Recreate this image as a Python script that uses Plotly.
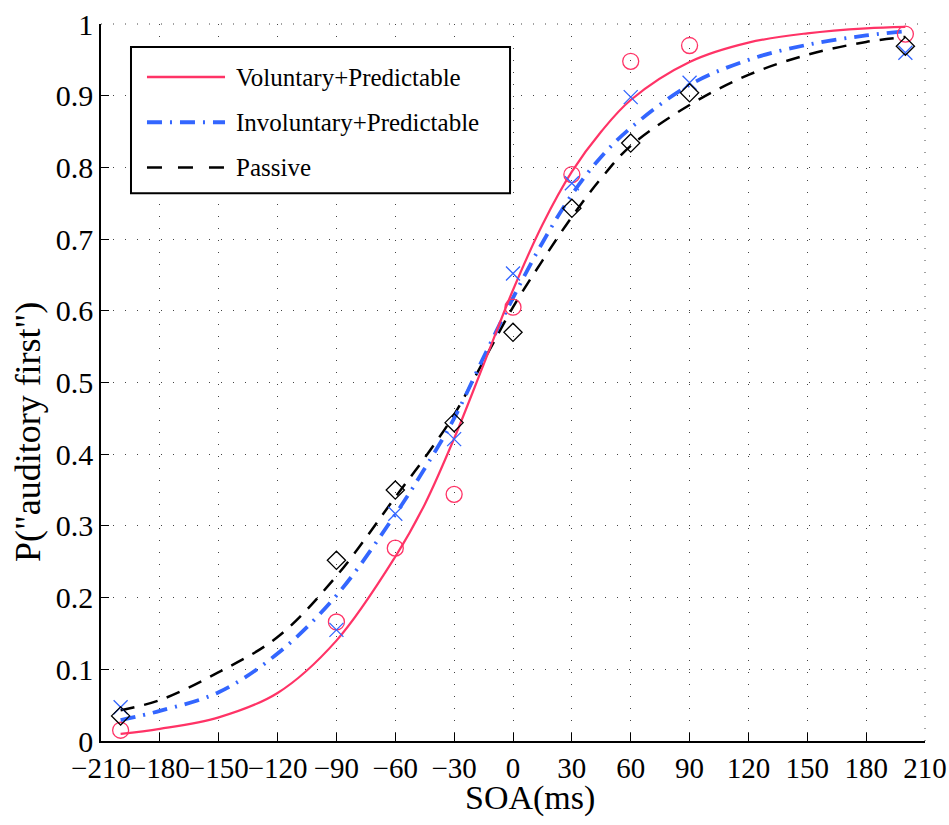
import plotly.graph_objects as go

# ---------------- data ----------------
soa = [-200, -90, -60, -30, 0, 30, 60, 90, 200]
vol_obs = [0.015, 0.166, 0.269, 0.344, 0.605, 0.790, 0.948, 0.970, 0.986]
invol_obs = [0.047, 0.155, 0.317, 0.421, 0.652, 0.778, 0.898, 0.918, 0.960]
passive_obs = [0.035, 0.252, 0.350, 0.444, 0.570, 0.743, 0.834, 0.904, 0.969]

curve_x = [-200, -180, -150, -120, -90, -60, -45, -30, -15, 0, 15, 30, 45, 60, 90, 120, 150, 180, 200]
vol_fit = [0.010, 0.017, 0.033, 0.067, 0.140, 0.257, 0.330, 0.422, 0.525, 0.629, 0.720, 0.794,
           0.850, 0.894, 0.947, 0.974, 0.987, 0.994, 0.996]
invol_fit = [0.029, 0.042, 0.068, 0.122, 0.203, 0.316, 0.380, 0.450, 0.535, 0.618, 0.695, 0.762,
             0.815, 0.855, 0.915, 0.950, 0.971, 0.984, 0.990]
passive_fit = [0.043, 0.057, 0.096, 0.145, 0.230, 0.340, 0.395, 0.455, 0.530, 0.605, 0.670, 0.731,
               0.785, 0.830, 0.887, 0.929, 0.957, 0.975, 0.982]

x_ticks = list(range(-210, 211, 30))
y_ticks = [0, 0.1, 0.2, 0.3, 0.4, 0.5, 0.6, 0.7, 0.8, 0.9, 1]
y_ticklabels = ["0", "0.1", "0.2", "0.3", "0.4", "0.5", "0.6", "0.7", "0.8", "0.9", "1"]

series_names = ["Voluntary+Predictable", "Involuntary+Predictable", "Passive"]

# ---------------- style ----------------
RED = "#FF3366"
BLUE = "#3366FF"
BLACK = "#000000"
GRID = "#444444"
FONT = "Liberation Serif"

fig = go.Figure()

# fitted curves
fig.add_trace(go.Scatter(x=curve_x, y=passive_fit, mode="lines", line_shape="spline",
                         line=dict(color=BLACK, width=2.5, dash="14px,10px"), showlegend=False))
fig.add_trace(go.Scatter(x=curve_x, y=invol_fit, mode="lines", line_shape="spline",
                         line=dict(color=BLUE, width=3.8, dash="15px,8px,2px,8px"), showlegend=False))
fig.add_trace(go.Scatter(x=curve_x, y=vol_fit, mode="lines", line_shape="spline",
                         line=dict(color=RED, width=2.2), showlegend=False))

# observed points
fig.add_trace(go.Scatter(x=soa, y=vol_obs, mode="markers",
                         marker=dict(symbol="circle-open", size=16, color=RED, line=dict(width=1.3, color=RED)),
                         showlegend=False))
fig.add_trace(go.Scatter(x=soa, y=invol_obs, mode="markers",
                         marker=dict(symbol="x-thin-open", size=14, color=BLUE, line=dict(width=1.3, color=BLUE)),
                         showlegend=False))
fig.add_trace(go.Scatter(x=soa, y=passive_obs, mode="markers",
                         marker=dict(symbol="diamond-open", size=14, color=BLACK, line=dict(width=1.3, color=BLACK)),
                         showlegend=False))

# dotted grid lines on the top and right plot edges (plotly clips the ones at the range ends)
shapes = [
    dict(type="line", xref="paper", yref="paper", x0=0, x1=1, y0=1, y1=1,
         line=dict(color=GRID, width=1, dash="1px,11px"), layer="below"),
    dict(type="line", xref="paper", yref="paper", x0=1, x1=1, y0=0, y1=1,
         line=dict(color=GRID, width=1, dash="1px,11px"), layer="below"),
]

# ---------------- custom legend ----------------
shapes.append(dict(type="rect", xref="paper", yref="paper", x0=0.0364, x1=0.4964, y0=0.764, y1=0.968,
                   line=dict(color=BLACK, width=2), fillcolor="white", layer="above"))
rows = [0.926, 0.863, 0.800]
styles = [dict(color=RED, width=2.5), dict(color=BLUE, width=3.8, dash="15px,8px,2px,8px"),
          dict(color=BLACK, width=2.5, dash="15px,16px")]
annotations = []
for name, yy, st in zip(series_names, rows, styles):
    shapes.append(dict(type="line", xref="paper", yref="paper", x0=0.0558, x1=0.1505, y0=yy, y1=yy,
                       line=st, layer="above"))
    annotations.append(dict(text=name, xref="paper", yref="paper", x=0.1614, y=yy, xanchor="left",
                            yanchor="middle", showarrow=False, font=dict(family=FONT, size=25, color=BLACK)))

# axis titles as annotations
annotations.append(dict(text="SOA(ms)", xref="paper", yref="paper", x=0.5206, y=-0.080,
                        xanchor="center", yanchor="middle", showarrow=False,
                        font=dict(family=FONT, size=34, color=BLACK)))
annotations.append(dict(text='P("auditory first")', xref="paper", yref="paper", x=-0.0885, y=0.431,
                        xanchor="center", yanchor="middle", textangle=-90, showarrow=False,
                        font=dict(family=FONT, size=36, color=BLACK)))

fig.update_layout(
    width=949, height=825,
    margin=dict(l=101, r=24, t=24, b=84, autoexpand=False),
    paper_bgcolor="white", plot_bgcolor="white",
    font=dict(family=FONT, size=29, color=BLACK),
    shapes=shapes, annotations=annotations,
    showlegend=False,
)
fig.update_xaxes(range=[-210, 210], tickvals=x_ticks, tickangle=0, automargin=False,
                 ticklabeloverflow="allow",
                 showgrid=True, gridcolor=GRID, gridwidth=1, griddash="1px,11px",
                 zeroline=False, showline=True, linecolor=BLACK, linewidth=1.5,
                 ticks="inside", ticklen=8, tickwidth=1, tickcolor=BLACK, mirror=False,
                 tickfont=dict(family=FONT, size=29))
fig.update_yaxes(range=[0, 1], tickvals=y_ticks, ticktext=y_ticklabels, automargin=False,
                 ticklabeloverflow="allow",
                 showgrid=True, gridcolor=GRID, gridwidth=1, griddash="1px,11px",
                 zeroline=False, showline=True, linecolor=BLACK, linewidth=1.5,
                 ticks="inside", ticklen=8, tickwidth=1, tickcolor=BLACK, mirror=False,
                 tickfont=dict(family=FONT, size=30))

# remove the default 8px page margin so the 949x825 figure fills the window exactly
fig.write_html("out.html", config={"displayModeBar": False},
               post_script="document.body.style.margin='0';document.body.style.overflow='hidden';")
